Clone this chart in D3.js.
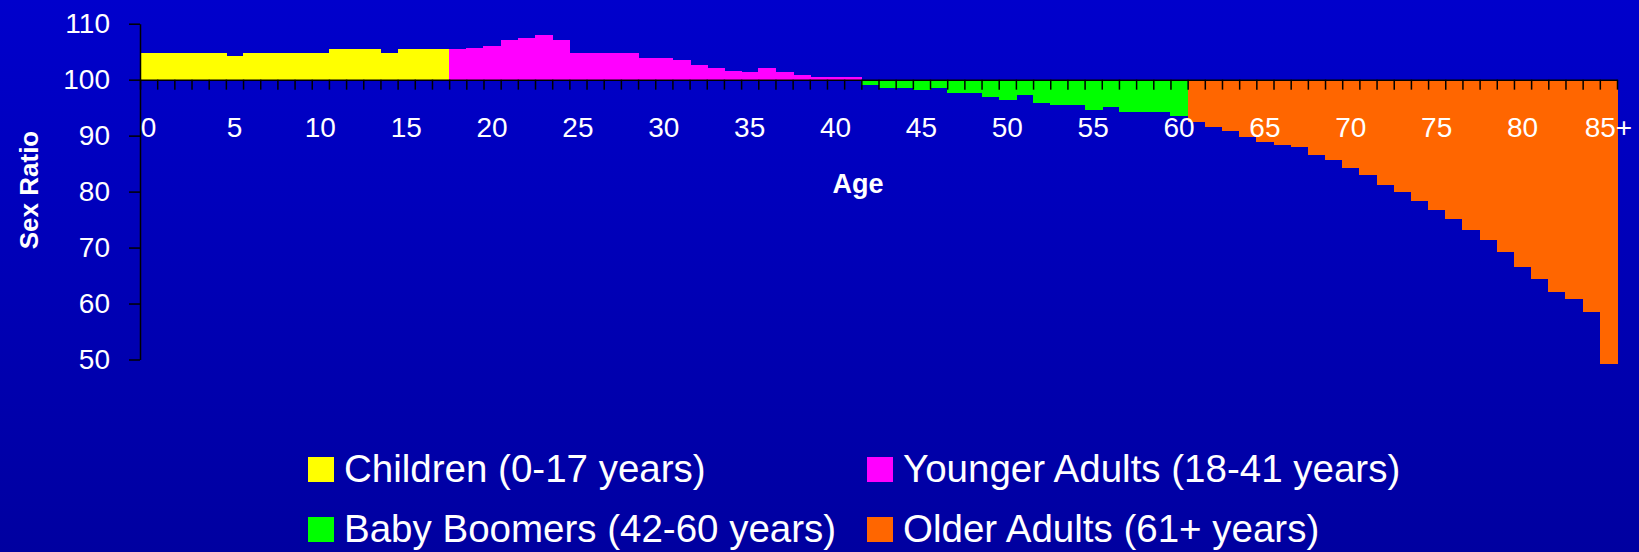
<!DOCTYPE html>
<html>
<head>
<meta charset="utf-8">
<script src="https://cdn.jsdelivr.net/npm/d3@7"></script>
<style>
  html, body { margin: 0; padding: 0; background: #0000a8; }
  svg { display: block; font-family: "Liberation Sans", Arial, sans-serif; }
</style>
</head>
<body>
<div id="chart"></div>
<script>
// ages 0..84 and the open group 85+
const ages = d3.range(85).map(String).concat(["85+"]);

// sex ratio (males per 100 females), one per age
const ratios = [
  104.8, 104.8, 104.8, 104.8, 104.8, 104.3, 104.8, 104.8, 104.8, 104.8,
  104.8, 105.4, 105.4, 105.4, 104.8, 105.4, 105.4, 105.4, 105.4, 105.7,
  106.1, 107.1, 107.5, 107.9, 107.1, 104.8, 104.8, 104.8, 104.8, 103.9,
  103.9, 103.6, 102.7, 102.1, 101.6, 101.3, 102.1, 101.3, 100.9, 100.4,
  100.4, 100.4, 99.1, 98.5, 98.5, 98.2, 98.5, 97.6, 97.6, 96.9,
  96.4, 97.3, 95.9, 95.5, 95.5, 94.6, 95.1, 94.3, 94.3, 94.3,
  93.5, 92.4, 91.5, 90.9, 89.7, 88.8, 88.3, 87.9, 86.5, 85.6,
  84.3, 82.9, 81.1, 79.9, 78.4, 76.8, 75.1, 73.1, 71.3, 69.2,
  66.5, 64.3, 62.0, 60.8, 58.4, 49.2
];

// generation groups: first and last age index of each
const groupNames = ["Children (0-17 years)", "Younger Adults (18-41 years)",
                    "Baby Boomers (42-60 years)", "Older Adults (61+ years)"];
const groupStart = [0, 18, 42, 61];
const groupEnd = [17, 41, 60, 85];
const groupColors = ["#ffff00", "#ff00ff", "#00ff00", "#ff6600"];

const yTicks = [50, 60, 70, 80, 90, 100, 110];
const labelEvery = 5;

const width = 1639, height = 552;
const plotLeft = 140, plotRight = 1617, plotTop = 23.7, plotBottom = 359.5;

const svg = d3.select("#chart").append("svg")
  .attr("width", width)
  .attr("height", height);

// background gradient
const grad = svg.append("defs").append("linearGradient")
  .attr("id", "bg").attr("x1", 0).attr("y1", 0).attr("x2", 0).attr("y2", 1);
grad.append("stop").attr("offset", "0%").attr("stop-color", "#0000cc");
grad.append("stop").attr("offset", "100%").attr("stop-color", "#0000a0");
svg.append("rect").attr("width", width).attr("height", height).attr("fill", "url(#bg)");

const x = d3.scaleBand().domain(ages).range([plotLeft, plotRight]).padding(0);
const xEdge = d3.scaleLinear().domain([0, ages.length]).range([plotLeft, plotRight]);
const y = d3.scaleLinear().domain([50, 110]).range([plotBottom, plotTop]);

function groupOf(i) {
  return groupStart.findIndex((s, g) => i >= s && i <= groupEnd[g]);
}

// bars hanging from the 100 line
svg.append("g")
  .attr("shape-rendering", "crispEdges")
  .selectAll("rect")
  .data(ratios)
  .enter()
  .append("rect")
  .attr("x", (d, i) => x(ages[i]))
  .attr("width", x.bandwidth() + 1)
  .attr("y", d => y(Math.max(d, 100)))
  .attr("height", d => Math.abs(y(d) - y(100)))
  .attr("fill", (d, i) => groupColors[groupOf(i)]);

// y axis
const yAxis = svg.append("g")
  .attr("transform", `translate(${plotLeft},0)`)
  .call(d3.axisLeft(y).tickValues(yTicks).tickSize(11).tickPadding(19).tickSizeOuter(0));
yAxis.selectAll("path, line").attr("stroke", "#000").attr("stroke-width", 1.5);
yAxis.selectAll("text").attr("fill", "#fff").style("font-size", "28px")
  .attr("font-family", "Liberation Sans, Arial, sans-serif");

// x axis: boundary ticks along the 100 line
const xAxis = svg.append("g")
  .attr("transform", `translate(0,${y(100)})`)
  .call(d3.axisBottom(xEdge).tickValues(d3.range(ages.length + 1)).tickSize(10)
    .tickSizeOuter(0).tickFormat(""));
xAxis.selectAll("path, line").attr("stroke", "#000").attr("stroke-width", 1.5);

// x labels every fifth age, centred on the bar
const xLabels = svg.append("g")
  .attr("transform", `translate(0,${y(100)})`)
  .call(d3.axisBottom(x).tickValues(ages.filter((a, i) => i % labelEvery === 0)).tickSize(0));
xLabels.select(".domain").remove();
xLabels.selectAll("text")
  .attr("y", 57).attr("dy", null)
  .attr("fill", "#fff").style("font-size", "28px")
  .attr("font-family", "Liberation Sans, Arial, sans-serif");

// axis titles
svg.append("text")
  .attr("x", 858).attr("y", 193)
  .attr("text-anchor", "middle")
  .attr("fill", "#fff").attr("font-weight", "bold").style("font-size", "27px")
  .text("Age");

svg.append("text")
  .attr("transform", "translate(38,190) rotate(-90)")
  .attr("text-anchor", "middle")
  .attr("fill", "#fff").attr("font-weight", "bold").style("font-size", "26px")
  .text("Sex Ratio");

// legend, two columns by two rows
const legendX = [308, 867];
const legendY = [482, 542];
const legend = svg.append("g")
  .selectAll("g")
  .data(groupNames)
  .enter()
  .append("g")
  .attr("transform", (d, i) => `translate(${legendX[i % 2]},${legendY[Math.floor(i / 2)]})`);

legend.append("rect")
  .attr("x", 0).attr("y", -25)
  .attr("width", 26).attr("height", 25)
  .attr("fill", (d, i) => groupColors[i]);

legend.append("text")
  .attr("x", 36).attr("y", 0)
  .attr("fill", "#fff").style("font-size", "38.5px")
  .text(d => d);
</script>
</body>
</html>
